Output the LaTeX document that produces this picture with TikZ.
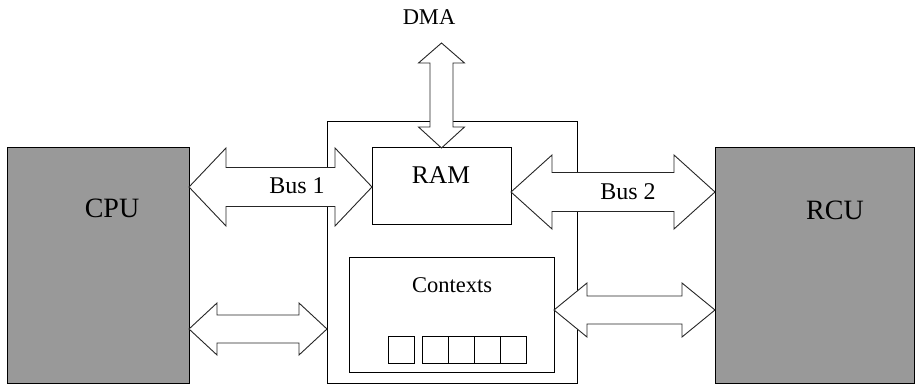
\documentclass[tikz,border=0pt]{standalone}
\usepackage{fontspec}
\setmainfont{Liberation Serif}
\usetikzlibrary{positioning,calc}

\begin{document}
\begin{tikzpicture}[
  x=1pt, y=-1pt,
  box/.style={draw=black, line width=1pt, inner sep=0pt, outer sep=0pt},
  unit/.style={box, fill=black!40},
  slot/.style={box, line width=0.9pt, minimum width=26pt, minimum height=27pt},
  bus/.style={draw=black!85, line width=0.9pt, fill=white, line join=miter},
  big/.style={font=\fontsize{28}{32}\selectfont, inner sep=0pt},
  mid/.style={font=\fontsize{25.5}{30}\selectfont, inner sep=0pt},
  sml/.style={font=\fontsize{24}{28}\selectfont, inner sep=0pt},
  tny/.style={font=\fontsize{22.5}{26}\selectfont, inner sep=0pt},
]
\useasboundingbox (0,0) rectangle (921,385);

% double block arrow: tips #1 and #2, head length #3, head half #4, shaft half #5
\def\busarrow#1#2#3#4#5{%
  \draw[bus] (#1) -- ++(#3,-#4) -- ++(0,#4-#5) -- ($(#2)+(-#3,-#5)$) -- ++(0,#5-#4)
    -- (#2) -- ++(-#3,#4) -- ++(0,#5-#4) -- ($(#1)+(#3,#5)$) -- ++(0,#4-#5) -- cycle;}

%% ============ units ============
\node[unit, minimum width=182pt, minimum height=235pt] (cpu) at (98,265.5) {};
\node[unit, minimum width=199pt, minimum height=235pt] (rcu) at (814.5,265.5) {};
\node[big] (cputxt) at (112,208) {CPU};
\node[big] (rcutxt) at (835,210) {RCU};

%% ============ memory block ============
\node[box, minimum width=250pt, minimum height=261pt] (mem) at (452,252.5) {};
\node[box, minimum width=139pt, minimum height=76pt] (ram) at (441.5,186) {};
\node[mid] (ramtxt) at (441,175) {RAM};
\node[box, minimum width=205pt, minimum height=115pt] (ctx) at (451.5,314.5) {};
\node[tny] (ctxtxt) at (452,285) {Contexts};
\node[slot] (s1) at (401.5,349.5) {};
\node[slot, right=8pt of s1] (s2) {};
\node[slot, right=0pt of s2] (s3) {};
\node[slot, right=0pt of s3] (s4) {};
\node[slot, right=0pt of s4] (s5) {};

%% ============ buses ============
\coordinate (b1a) at (cpu.east |- 0,187);
\coordinate (b1b) at (ram.west |- 0,187);
\coordinate (b2a) at (ram.east |- 0,192);
\coordinate (b2b) at (rcu.west |- 0,192);
\coordinate (b3a) at (cpu.east |- 0,329);
\coordinate (b3b) at (mem.west |- 0,329);
\coordinate (b4a) at (ctx.east |- 0,310);
\coordinate (b4b) at (rcu.west |- 0,310);
\busarrow{b1a}{b1b}{37}{39}{19.5}
\busarrow{b2a}{b2b}{41}{37}{19.5}
\busarrow{b3a}{b3b}{28}{26}{14}
\busarrow{b4a}{b4b}{33}{27}{14}
\node[sml] (bus1) at (297,186) {Bus 1};
\node[sml] (bus2) at (628,192) {Bus 2};

%% ============ DMA ============
\coordinate (dtop) at (ram.north |- 0,43);
\draw[bus] (dtop) -- ++(23,20) -- ++(-11.5,0) -- ($(ram.north)+(11.5,-21)$) -- ++(11.5,0)
  -- (ram.north) -- ++(-23,-21) -- ++(11.5,0) -- ($(dtop)+(-11.5,20)$) -- ++(-11.5,0) -- cycle;
\node[tny] (dma) at (429,17) {DMA};

\end{tikzpicture}
\end{document}
